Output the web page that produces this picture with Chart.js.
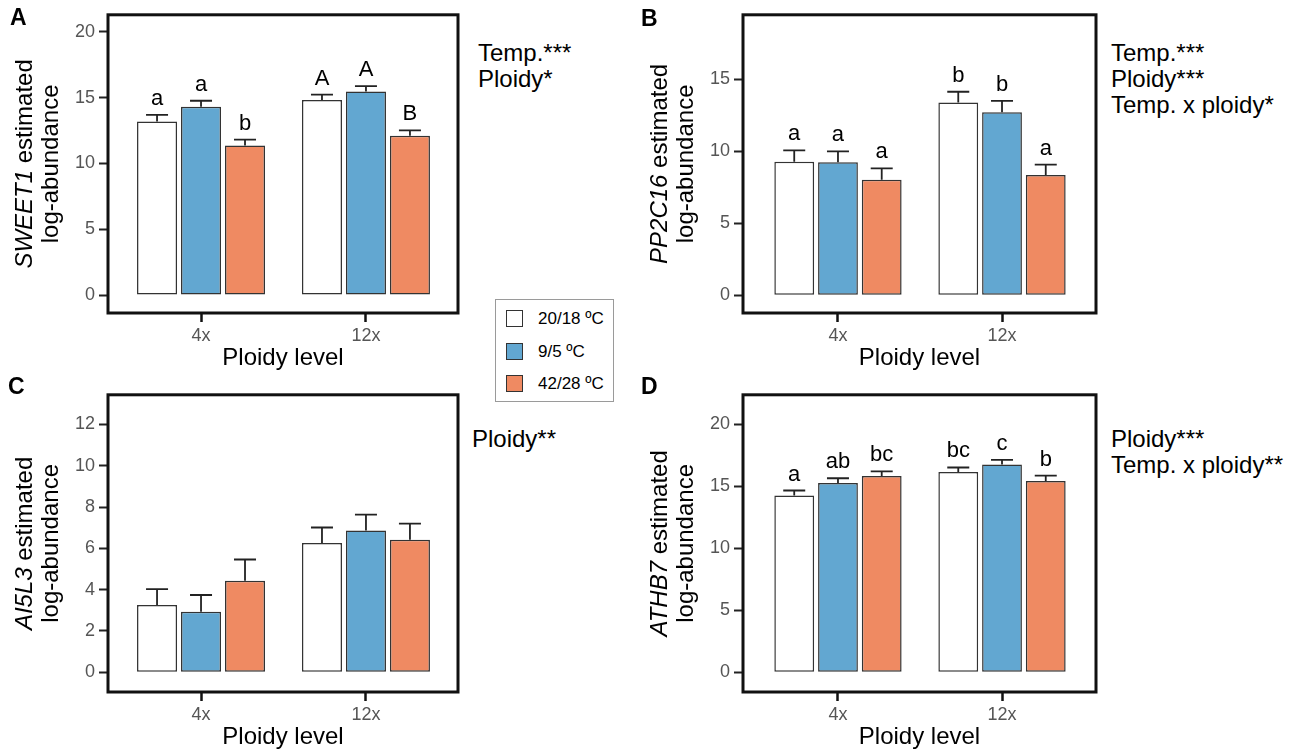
<!DOCTYPE html>
<html>
<head>
<meta charset="utf-8">
<script src="https://cdn.jsdelivr.net/npm/chart.js@4.4.1/dist/chart.umd.min.js"></script>
<style>
  body { margin: 0; background: #fff; font-family: "Liberation Sans", Arial, sans-serif; }
  #page { position: relative; width: 1300px; height: 751px; overflow: hidden; }
  .panel { position: absolute; }
  .tag { position: absolute; font-weight: bold; font-size: 23px; line-height: 23px; }
  .stats { position: absolute; font-size: 24px; line-height: 26px; white-space: nowrap; }
  #legend { position: absolute; left: 495px; top: 299px; width: 119px; height: 103px;
            box-sizing: border-box; border: 1px solid #9a9a9a; }
  .item { position: absolute; left: 10px; height: 18px; font-size: 17px; line-height: 18px; white-space: nowrap; }
  .item span { display: inline-block; width: 17px; height: 17px; border: 1.5px solid #333;
               vertical-align: top; margin-right: 15px; box-sizing: border-box; }
</style>
</head>
<body>
<div id="page">
  <div class="panel" style="left:0;top:0"><canvas id="chartA" width="470" height="380"></canvas></div>
  <div class="panel" style="left:635px;top:0"><canvas id="chartB" width="475" height="380"></canvas></div>
  <div class="panel" style="left:0;top:380px"><canvas id="chartC" width="470" height="371"></canvas></div>
  <div class="panel" style="left:635px;top:380px"><canvas id="chartD" width="475" height="371"></canvas></div>

  <div class="tag" style="left:10px;top:6px">A</div>
  <div class="tag" style="left:641px;top:7px">B</div>
  <div class="tag" style="left:8px;top:375px">C</div>
  <div class="tag" style="left:641px;top:375px">D</div>

  <div class="stats" style="left:478px;top:40px">Temp.***<br>Ploidy*</div>
  <div class="stats" style="left:1111px;top:40px">Temp.***<br>Ploidy***<br>Temp. x ploidy*</div>
  <div class="stats" style="left:472px;top:426px">Ploidy**</div>
  <div class="stats" style="left:1111px;top:426px">Ploidy***<br>Temp. x ploidy**</div>

  <div id="legend"></div>
</div>

<script>
// Categories and legend
const ploidyLabels = ['4x', '12x'];
const tempLabels = ['20/18 ºC', '9/5 ºC', '42/28 ºC'];
const tempColors = ['#ffffff', '#62a7d1', '#ef8a62'];

// A - SWEET1 (one array per temperature, values for 4x and 12x)
const sweet1Means = [[13.2, 14.82], [14.32, 15.48], [11.36, 12.1]];
const sweet1Errors = [[0.49, 0.41], [0.45, 0.4], [0.46, 0.42]];
const sweet1Letters = [['a', 'A'], ['a', 'A'], ['b', 'B']];
const sweet1Ticks = [0, 5, 10, 15, 20];

// B - PP2C16
const pp2c16Means = [[9.28, 13.39], [9.24, 12.72], [8.02, 8.36]];
const pp2c16Errors = [[0.79, 0.75], [0.76, 0.78], [0.8, 0.71]];
const pp2c16Letters = [['a', 'b'], ['a', 'b'], ['a', 'a']];
const pp2c16Ticks = [0, 5, 10, 15];

// C - AI5L3
const ai5l3Means = [[3.26, 6.26], [2.93, 6.87], [4.43, 6.42]];
const ai5l3Errors = [[0.76, 0.75], [0.81, 0.76], [1.03, 0.78]];
const ai5l3Ticks = [0, 2, 4, 6, 8, 10, 12];

// D - ATHB7
const athb7Means = [[14.27, 16.16], [15.28, 16.77], [15.84, 15.44]];
const athb7Errors = [[0.4, 0.37], [0.38, 0.38], [0.37, 0.43]];
const athb7Letters = [['a', 'bc'], ['ab', 'c'], ['bc', 'b']];
const athb7Ticks = [0, 5, 10, 15, 20];

const FONT = '"Liberation Sans", Arial, sans-serif';
Chart.defaults.font.family = FONT;

// legend box
const legend = document.getElementById('legend');
tempLabels.forEach((t, i) => {
  const d = document.createElement('div');
  d.className = 'item';
  d.style.top = (10 + i * 32.5) + 'px';
  d.innerHTML = '<span style="background:' + tempColors[i] + '"></span>' + t;
  legend.appendChild(d);
});

// error bars, letters, frame and axis titles
const panelDecor = {
  id: 'panelDecor',
  afterDatasetsDraw(chart) {
    const ctx = chart.ctx;
    const y = chart.scales.y;
    ctx.save();
    chart.data.datasets.forEach((ds, i) => {
      chart.getDatasetMeta(i).data.forEach((bar, j) => {
        const top = y.getPixelForValue(ds.data[j].y + ds.errors[j]);
        ctx.strokeStyle = '#222';
        ctx.lineWidth = 1.8;
        ctx.beginPath();
        ctx.moveTo(bar.x, bar.y);
        ctx.lineTo(bar.x, top);
        ctx.moveTo(bar.x - 11, top);
        ctx.lineTo(bar.x + 11, top);
        ctx.stroke();
        if (ds.letters) {
          ctx.fillStyle = '#000';
          ctx.font = '22px ' + FONT;
          ctx.textAlign = 'center';
          ctx.textBaseline = 'alphabetic';
          ctx.fillText(ds.letters[j], bar.x, top - 10);
        }
      });
    });
    ctx.restore();
  },
  afterDraw(chart, args, opts) {
    const ctx = chart.ctx;
    const a = chart.chartArea;
    ctx.save();
    ctx.strokeStyle = '#111';
    ctx.lineWidth = 3;
    ctx.strokeRect(a.left, a.top, a.right - a.left, a.bottom - a.top);

    ctx.fillStyle = '#000';
    ctx.textBaseline = 'alphabetic';
    ctx.font = '24px ' + FONT;
    ctx.textAlign = 'center';
    ctx.fillText('Ploidy level', (a.left + a.right) / 2, a.bottom + 52);

    ctx.translate(a.left - 76, (a.top + a.bottom) / 2);
    ctx.rotate(-Math.PI / 2);
    ctx.font = 'italic 24px ' + FONT;
    const w1 = ctx.measureText(opts.gene).width;
    ctx.font = '24px ' + FONT;
    const w2 = ctx.measureText(' estimated').width;
    const x0 = -(w1 + w2) / 2;
    ctx.textAlign = 'left';
    ctx.font = 'italic 24px ' + FONT;
    ctx.fillText(opts.gene, x0, 0);
    ctx.font = '24px ' + FONT;
    ctx.fillText(' estimated', x0 + w1, 0);
    ctx.textAlign = 'center';
    ctx.fillText('log-abundance', 0, 26);
    ctx.restore();
  }
};

function makePanel(id, gene, means, errors, letters, ticks, yMin, yMax, xMin, xMax, pad, xHeight) {
  const datasets = tempLabels.map((t, i) => ({
    label: t,
    data: ploidyLabels.map((p, j) => ({ x: j, y: means[i][j] })),
    errors: errors[i],
    letters: letters ? letters[i] : null,
    backgroundColor: tempColors[i],
    borderColor: '#333',
    borderWidth: 1.5,
    borderSkipped: false,
    categoryPercentage: 0.8,
    barPercentage: 0.91
  }));

  new Chart(document.getElementById(id), {
    type: 'bar',
    data: { datasets },
    options: {
      responsive: false,
      animation: false,
      events: [],
      devicePixelRatio: 1,
      layout: { padding: pad },
      plugins: {
        legend: { display: false },
        tooltip: { enabled: false },
        panelDecor: { gene }
      },
      scales: {
        x: {
          type: 'linear',
          min: xMin,
          max: xMax,
          offset: false,
          afterBuildTicks: s => { s.ticks = ploidyLabels.map((p, j) => ({ value: j })); },
          afterFit: s => { s.height = xHeight; },
          ticks: {
            callback: v => ploidyLabels[v],
            color: '#555',
            font: { size: 18 },
            padding: 3,
            maxRotation: 0
          },
          border: { display: false },
          grid: { offset: false, drawOnChartArea: false, tickLength: 9, tickWidth: 2.5, tickColor: '#111' }
        },
        y: {
          min: yMin,
          max: yMax,
          afterBuildTicks: s => { s.ticks = ticks.map(v => ({ value: v })); },
          afterFit: s => { s.width = 108; },
          ticks: { color: '#555', font: { size: 18 }, padding: 4 },
          border: { display: false },
          grid: { drawOnChartArea: false, tickLength: 9, tickWidth: 2, tickColor: '#222' }
        }
      }
    },
    plugins: [panelDecor]
  });
}

makePanel('chartA', 'SWEET1', sweet1Means, sweet1Errors, sweet1Letters, sweet1Ticks,
  -1.36, 21.3, -0.564, 1.558, { top: 14, right: 12, left: 0, bottom: 0 }, 67);
makePanel('chartB', 'PP2C16', pp2c16Means, pp2c16Errors, pp2c16Letters, pp2c16Ticks,
  -1.24, 19.49, -0.579, 1.573, { top: 13, right: 14, left: 0, bottom: 0 }, 67);
makePanel('chartC', 'AI5L3', ai5l3Means, ai5l3Errors, null, ai5l3Ticks,
  -0.96, 13.44, -0.564, 1.558, { top: 12, right: 12, left: 0, bottom: 0 }, 59);
makePanel('chartD', 'ATHB7', athb7Means, athb7Errors, athb7Letters, athb7Ticks,
  -1.6, 22.4, -0.579, 1.573, { top: 12, right: 14, left: 0, bottom: 0 }, 59);
</script>
</body>
</html>
